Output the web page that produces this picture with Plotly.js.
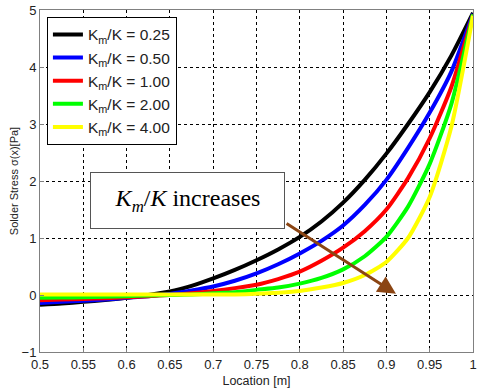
<!DOCTYPE html>
<html>
<head>
<meta charset="utf-8">
<script src="https://cdn.plot.ly/plotly-3.0.1.min.js"></script>
<style>
  body { margin: 0; padding: 0; background: #fff; }
  #chart { width: 480px; height: 391px; }
</style>
</head>
<body>
<div id="chart"></div>
<script>
// Location along the joint [m]
const location_m = [0.5, 0.525, 0.55, 0.575, 0.6, 0.625, 0.65, 0.675, 0.7, 0.725, 0.75,
                    0.775, 0.8, 0.825, 0.85, 0.875, 0.9, 0.925, 0.95, 0.975, 1.0];

// Solder stress for each Km/K ratio
const stressK025 = [-0.17, -0.15, -0.12, -0.09, -0.05, 0.0, 0.06, 0.16, 0.29, 0.44, 0.61,
                    0.8, 1.02, 1.29, 1.62, 2.02, 2.48, 3.0, 3.56, 4.2, 4.95];
const stressK050 = [-0.14, -0.12, -0.10, -0.08, -0.05, -0.02, 0.02, 0.08, 0.15, 0.25, 0.38,
                    0.54, 0.73, 0.95, 1.22, 1.58, 2.02, 2.58, 3.2, 3.92, 4.93];
const stressK100 = [-0.09, -0.08, -0.07, -0.055, -0.04, -0.02, 0.0, 0.03, 0.07, 0.12, 0.18,
                    0.28, 0.41, 0.6, 0.83, 1.12, 1.5, 2.05, 2.75, 3.65, 4.92];
const stressK200 = [-0.05, -0.045, -0.04, -0.03, -0.02, -0.01, 0.0, 0.01, 0.03, 0.05, 0.09,
                    0.13, 0.2, 0.3, 0.45, 0.68, 1.02, 1.55, 2.3, 3.35, 4.92];
const stressK400 = [0.01, 0.01, 0.01, 0.01, 0.01, 0.01, 0.01, 0.01, 0.01, 0.01, 0.02,
                    0.04, 0.07, 0.13, 0.21, 0.35, 0.58, 1.0, 1.72, 2.95, 4.9];

const ratioLabels = ['0.25', '0.50', '1.00', '2.00', '4.00'];
const seriesColors = ['#000000', '#0000ff', '#ff0000', '#00ff00', '#ffff00'];
const allStress = [stressK025, stressK050, stressK100, stressK200, stressK400];

const data = [];
for (let i = 0; i < allStress.length; i++) {
    data.push({
        x: location_m,
        y: allStress[i],
        type: 'scatter',
        mode: 'lines',
        line: { color: seriesColors[i], width: 4, shape: 'spline', smoothing: 0.6 },
        name: 'K<sub>m</sub>/K = ' + ratioLabels[i],
    });
}

const sansFamily = 'Liberation Sans, Arial, sans-serif';
const axisFont = { family: sansFamily, size: 13, color: '#222' };

const layout = {
    width: 480,
    height: 391,
    margin: { l: 40, r: 7, t: 10, b: 39 },
    paper_bgcolor: '#fff',
    plot_bgcolor: '#fff',
    showlegend: true,
    legend: {
        x: 0.016, y: 0.98, xanchor: 'left', yanchor: 'top',
        bgcolor: '#fff', bordercolor: '#000', borderwidth: 1,
        font: { family: sansFamily, size: 15.5, color: '#222' },
        tracegroupgap: 0,
    },
    xaxis: {
        range: [0.5, 1.0],
        dtick: 0.05,
        tickformat: '.2~f',
        showgrid: true, gridcolor: '#000', griddash: '3px,3px', gridwidth: 1,
        zeroline: false,
        showline: true, mirror: true, linecolor: '#808080', linewidth: 1,
        ticks: 'inside', ticklen: 4, tickcolor: '#808080',
        tickfont: axisFont,
        title: { text: 'Location [m]', font: { family: sansFamily, size: 12.5, color: '#222' }, standoff: 5 },
    },
    yaxis: {
        range: [-1, 5],
        dtick: 1,
        showgrid: true, gridcolor: '#000', griddash: '3px,3px', gridwidth: 1,
        zeroline: false,
        showline: true, mirror: true, linecolor: '#808080', linewidth: 1,
        ticks: 'inside', ticklen: 4, tickcolor: '#808080',
        tickfont: axisFont,
        title: { text: 'Solder Stress σ(x)[Pa]', font: { family: sansFamily, size: 11, color: '#222' }, standoff: 0 },
    },
    annotations: [
        {
            // arrow showing the trend
            x: 0.911, y: 0.02, xref: 'x', yref: 'y',
            ax: 0.783, ay: 1.27, axref: 'x', ayref: 'y',
            text: '', showarrow: true,
            arrowcolor: '#8b4513', arrowwidth: 3, arrowhead: 2, arrowsize: 1.2,
        },
        {
            x: 0.67, y: 1.65, xref: 'x', yref: 'y',
            text: '<i>K<sub>m</sub></i>/<i>K</i> increases',
            showarrow: false,
            font: { family: 'Liberation Serif, Times New Roman, serif', size: 24, color: '#000' },
            bgcolor: '#fff', bordercolor: '#555', borderwidth: 1, borderpad: 3,
            width: 187, height: 49,
        },
    ],
};

Plotly.newPlot('chart', data, layout, { displayModeBar: false, staticPlot: true });
</script>
</body>
</html>
